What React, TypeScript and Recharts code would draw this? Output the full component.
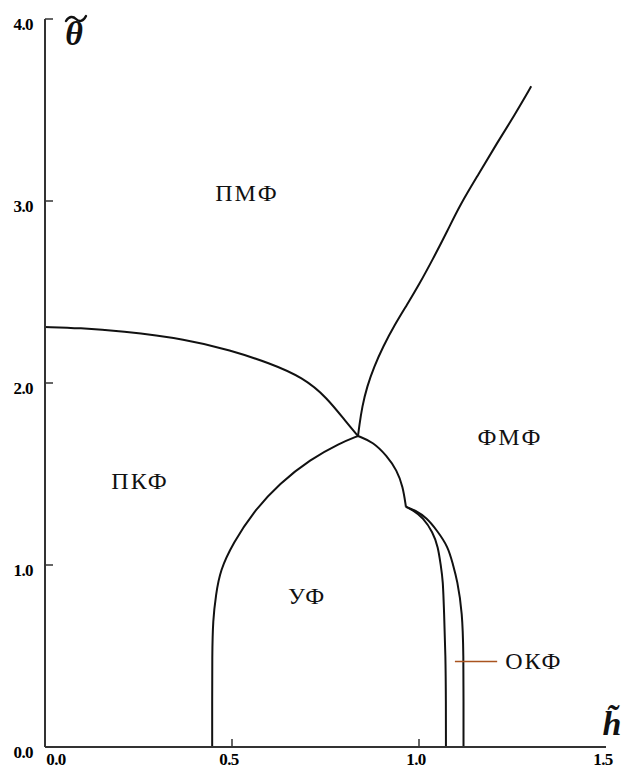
import { LineChart, Line, XAxis, YAxis, ReferenceDot, ReferenceLine } from "recharts"

// phase boundaries, h = reduced field, t = reduced temperature
const pmfPkfLine = [
  { h: 0, t: 2.308 },
  { h: 0.094, t: 2.302 },
  { h: 0.2, t: 2.286 },
  { h: 0.38, t: 2.24 },
  { h: 0.495, t: 2.18 },
  { h: 0.6, t: 2.11 },
  { h: 0.69, t: 2.03 },
  { h: 0.754, t: 1.92 },
  { h: 0.807, t: 1.78 },
  { h: 0.837, t: 1.709 },
]

const pmfFmfLine = [
  { h: 0.837, t: 1.709 },
  { h: 0.84, t: 1.76 },
  { h: 0.848, t: 1.87 },
  { h: 0.861, t: 1.98 },
  { h: 0.88, t: 2.09 },
  { h: 0.904, t: 2.2 },
  { h: 0.935, t: 2.32 },
  { h: 0.968, t: 2.43 },
  { h: 1.0, t: 2.54 },
  { h: 1.037, t: 2.68 },
  { h: 1.077, t: 2.84 },
  { h: 1.11, t: 2.98 },
  { h: 1.16, t: 3.15 },
  { h: 1.209, t: 3.32 },
  { h: 1.255, t: 3.47 },
  { h: 1.3, t: 3.63 },
]

const ufLeftLine = [
  { h: 0.837, t: 1.709 },
  { h: 0.789, t: 1.67 },
  { h: 0.709, t: 1.58 },
  { h: 0.628, t: 1.45 },
  { h: 0.556, t: 1.29 },
  { h: 0.503, t: 1.12 },
  { h: 0.468, t: 0.97 },
  { h: 0.457, t: 0.835 },
  { h: 0.449, t: 0.7 },
  { h: 0.447, t: 0.5 },
  { h: 0.447, t: 0.25 },
  { h: 0.447, t: 0 },
]

const ufTopLine = [
  { h: 0.837, t: 1.709 },
  { h: 0.877, t: 1.676 },
  { h: 0.914, t: 1.6 },
  { h: 0.941, t: 1.52 },
  { h: 0.957, t: 1.43 },
  { h: 0.965, t: 1.32 },
]

const okfInnerLine = [
  { h: 0.965, t: 1.32 },
  { h: 0.984, t: 1.3 },
  { h: 1.011, t: 1.26 },
  { h: 1.037, t: 1.18 },
  { h: 1.051, t: 1.1 },
  { h: 1.058, t: 1.0 },
  { h: 1.064, t: 0.92 },
  { h: 1.067, t: 0.74 },
  { h: 1.071, t: 0.5 },
  { h: 1.072, t: 0.25 },
  { h: 1.072, t: 0 },
]

const okfOuterLine = [
  { h: 0.965, t: 1.32 },
  { h: 0.99, t: 1.3 },
  { h: 1.02, t: 1.26 },
  { h: 1.048, t: 1.19 },
  { h: 1.078, t: 1.1 },
  { h: 1.091, t: 1.0 },
  { h: 1.102, t: 0.92 },
  { h: 1.116, t: 0.74 },
  { h: 1.119, t: 0.5 },
  { h: 1.119, t: 0.25 },
  { h: 1.119, t: 0 },
]

const curves = [pmfPkfLine, pmfFmfLine, ufLeftLine, ufTopLine, okfInnerLine, okfOuterLine]

const regionNames = ["ПМФ", "ПКФ", "УФ", "ФМФ", "ОКФ"]
const regionH = [0.54, 0.254, 0.701, 1.243, 1.307]
const regionT = [3.044, 1.462, 0.83, 1.703, 0.473]

const okfPointer = [
  { x: 1.096, y: 0.47 },
  { x: 1.209, y: 0.47 },
]

const xTicks = [0, 0.5, 1.0, 1.5]
const yTicks = [0, 1.0, 2.0, 3.0, 4.0]

const INK = "#111"
const AXIS = "#333"
const SERIF = "'Liberation Serif', 'Times New Roman', serif"

function YTick({ x, y, payload }: any) {
  return (
    <g>
      <line x1={x} x2={x + 8} y1={y} y2={y} stroke={AXIS} strokeWidth={1.5} />
      <text
        x={x - 12}
        y={y + 5}
        textAnchor="end"
        dominantBaseline="central"
        fontFamily={SERIF}
        fontWeight="bold"
        fontSize={17}
        letterSpacing={-0.6}
        fill="#000"
      >
        {payload.value.toFixed(1)}
      </text>
    </g>
  )
}

function XTick({ x, y, payload }: any) {
  const v = payload.value
  const inner = v > 0 && v < 1.5
  return (
    <g>
      {inner && <line x1={x} x2={x} y1={y} y2={y - 8} stroke={AXIS} strokeWidth={1.5} />}
      <text
        x={v === 0 ? x + 11 : x - 3}
        y={y + 12}
        textAnchor="middle"
        dominantBaseline="central"
        fontFamily={SERIF}
        fontWeight="bold"
        fontSize={17}
        letterSpacing={-0.6}
        fill="#000"
      >
        {v.toFixed(1)}
      </text>
    </g>
  )
}

function RegionLabel({ cx, cy, text }: any) {
  return (
    <text
      x={cx}
      y={cy}
      textAnchor="middle"
      dominantBaseline="central"
      fontFamily={SERIF}
      fontSize={24}
      letterSpacing={2}
      fill={INK}
    >
      {text}
    </text>
  )
}

export default function App() {
  return (
    <div style={{ position: "absolute", left: 0, top: 0, background: "#fff" }}>
      <LineChart width={625} height={769} margin={{ top: 19, right: 19, bottom: 0, left: 0 }}>
        <XAxis
          type="number"
          dataKey="h"
          domain={[0, 1.5]}
          ticks={xTicks}
          height={22}
          tickSize={0}
          tickMargin={0}
          tickLine={false}
          tick={<XTick />}
          axisLine={{ stroke: AXIS, strokeWidth: 2 }}
          allowDataOverflow
          label={{
            content: ({ viewBox }: any) => (
              <text
                x={viewBox.x + viewBox.width + 6}
                y={viewBox.y - 12}
                textAnchor="middle"
                fontFamily={SERIF}
                fontStyle="italic"
                fontWeight="bold"
                fontSize={34}
                fill={INK}
              >
                {"h\u0303"}
              </text>
            ),
          }}
        />
        <YAxis
          type="number"
          dataKey="t"
          domain={[0, 4]}
          ticks={yTicks}
          width={45}
          tickSize={0}
          tickMargin={0}
          tickLine={false}
          tick={<YTick />}
          axisLine={{ stroke: AXIS, strokeWidth: 2 }}
          allowDataOverflow
          label={{
            content: ({ viewBox }: any) => {
              const cx = viewBox.x + viewBox.width + 29
              const base = viewBox.y + 26
              return (
                <g>
                  <text
                    x={cx}
                    y={base}
                    textAnchor="middle"
                    fontFamily={SERIF}
                    fontStyle="italic"
                    fontWeight="bold"
                    fontSize={34}
                    fill={INK}
                  >
                    {"\u03b8"}
                  </text>
                  {/* tilde accent above theta */}
                  <path
                    d={`M${cx - 8},${base - 24} c3,-5 7,-5 10,-2 s7,3 10,-3`}
                    fill="none"
                    stroke={INK}
                    strokeWidth={2.4}
                    strokeLinecap="round"
                  />
                </g>
              )
            },
          }}
        />
        {curves.map((data, i) => (
          <Line
            key={i}
            data={data}
            dataKey="t"
            type="basis"
            stroke={INK}
            strokeWidth={2}
            dot={false}
            activeDot={false}
            isAnimationActive={false}
          />
        ))}
        <ReferenceLine segment={okfPointer} stroke="#a9531f" strokeWidth={1.5} />
        {regionNames.map((name, i) => (
          <ReferenceDot
            key={name}
            x={regionH[i]}
            y={regionT[i]}
            r={0}
            shape={(p: any) => <RegionLabel cx={p.cx} cy={p.cy} text={name} />}
          />
        ))}
      </LineChart>
    </div>
  )
}
